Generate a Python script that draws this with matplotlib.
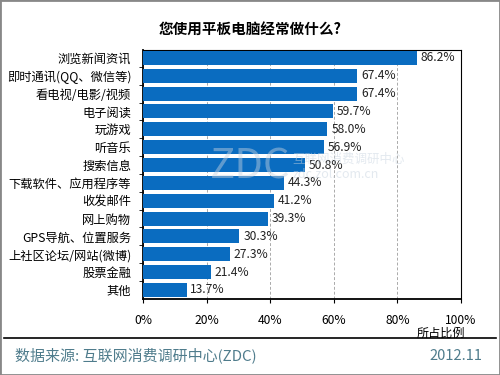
import matplotlib.pyplot as plt
from matplotlib.ticker import FuncFormatter

plt.rcParams['font.family'] = ['Noto Sans CJK SC', 'DejaVu Sans']

# data
categories = ["浏览新闻资讯", "即时通讯(QQ、微信等)", "看电视/电影/视频", "电子阅读", "玩游戏",
              "听音乐", "搜索信息", "下载软件、应用程序等", "收发邮件", "网上购物",
              "GPS导航、位置服务", "上社区论坛/网站(微博)", "股票金融", "其他"]
values = [86.2, 67.4, 67.4, 59.7, 58.0, 56.9, 50.8, 44.3, 41.2, 39.3, 30.3, 27.3, 21.4, 13.7]
xticks = [0, 20, 40, 60, 80, 100]

BAR_COLOR = "#0A6CC0"
FOOT_COLOR = "#4F7C8C"

fig = plt.figure(figsize=(5, 3.75), dpi=100)
ax = fig.add_axes([0.286, 0.203, 0.636, 0.664])

ypos = list(range(len(categories)))
ax.barh(ypos, values, height=0.78, color=BAR_COLOR, zorder=3)
for y, v in zip(ypos, values):
    ax.text(v + 1.2, y, f"{v:.1f}%", va="center", ha="left", fontsize=8.7, color="#222222", zorder=4)

ax.set_xlim(0, 100)
ax.set_ylim(13.5, -0.45)
ax.set_xticks(xticks)
ax.xaxis.set_major_formatter(FuncFormatter(lambda x, p: f"{x:.0f}%"))
ax.set_yticks(ypos)
ax.set_yticklabels(categories, fontsize=8.8)
ax.set_yticks([y + 0.5 for y in ypos[:-1]], minor=True)
ax.tick_params(axis="y", which="major", length=0, pad=8.5)
ax.tick_params(axis="y", which="minor", length=3, direction="out")
ax.tick_params(axis="x", length=3, direction="out", labelsize=8.7, pad=8)
ax.grid(axis="x", linestyle=(0, (3, 2)), color="#AAAAAA", linewidth=0.7, zorder=0)
ax.set_axisbelow(True)
for s in ["top", "right"]:
    ax.spines[s].set_linewidth(0.8)
for s in ["left", "bottom"]:
    ax.spines[s].set_linewidth(1.3)

# watermark
fig.text(0.5, 0.555, "ZDC", fontsize=30, color="#C8D4E0", alpha=0.45, ha="center", va="center", zorder=10)
fig.text(0.585, 0.575, "互联网消费调研中心", fontsize=9, color="#C8D4E0", alpha=0.5, ha="left", va="center", zorder=10)
fig.text(0.585, 0.535, "zdc.zol.com.cn", fontsize=9, color="#C8D4E0", alpha=0.5, ha="left", va="center", zorder=10)

fig.text(0.5, 0.92, "您使用平板电脑经常做什么?", fontsize=10.5, fontweight="bold", ha="center", va="center")
fig.text(0.93, 0.112, "所占比例", fontsize=8.7, ha="right", va="center")
fig.add_artist(plt.Line2D([0.008, 0.992], [0.098, 0.098], color="black", linewidth=1.2))
fig.text(0.03, 0.052, "数据来源: 互联网消费调研中心(ZDC)", fontsize=10.8, color=FOOT_COLOR, ha="left", va="center")
fig.text(0.965, 0.052, "2012.11", fontsize=10.5, color=FOOT_COLOR, ha="right", va="center")

# outer border
fig.add_artist(plt.Rectangle((0, 0), 1, 1, transform=fig.transFigure, fill=False,
                             edgecolor="#888888", linewidth=2))

fig.savefig("out.png", dpi=100)
